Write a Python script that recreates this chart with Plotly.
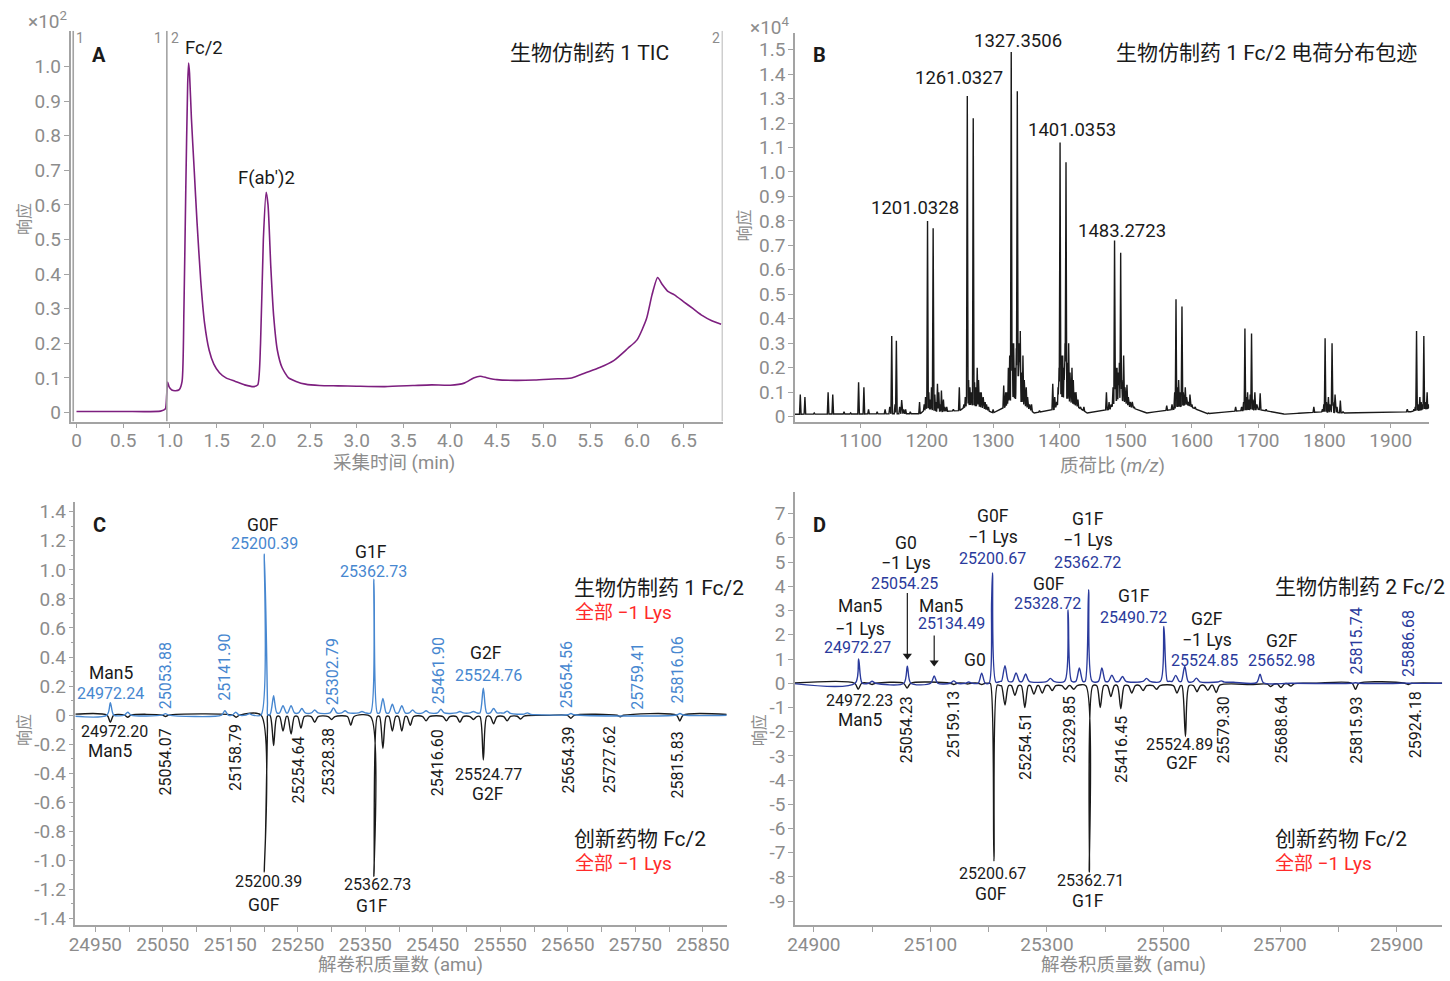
import numpy as np
import plotly.graph_objects as go

W, H = 1450, 981
FONT = "Roboto, 'Noto Sans CJK SC', sans-serif"
GRAY = "#8c8c8c"
AXC = "#a3a3a3"
BLK = "#1a1a1a"
PURPLE = "#7d1f7f"
BLUE_C = "#4787d0"
BLUE_D = "#2a3a9c"
RED = "#ff2a2a"

# ---------------- Panel A : TIC ----------------
tic_time = [0, 0.5, 0.9, 0.95, 0.965, 0.975, 0.99, 1.02, 1.06, 1.1, 1.13, 1.15, 1.17, 1.19, 1.2,
            1.21, 1.23, 1.26, 1.29, 1.33, 1.37, 1.42, 1.47, 1.53, 1.6, 1.7, 1.8, 1.9, 1.94,
            1.97, 2.0, 2.03, 2.05, 2.08, 2.11, 2.15, 2.2, 2.27, 2.35, 2.45, 2.6, 2.8, 3.0,
            3.3, 3.6, 3.8, 4.0, 4.15, 4.25, 4.32, 4.4, 4.5, 4.7, 4.9, 5.1, 5.3, 5.45, 5.6,
            5.75, 5.9, 6.0, 6.1, 6.16, 6.22, 6.27, 6.33, 6.4, 6.5, 6.6, 6.7, 6.8, 6.9]
tic_resp = [0.003, 0.003, 0.004, 0.01, 0.05, 0.088, 0.075, 0.065, 0.063, 0.066, 0.09, 0.3, 0.65,
            0.95, 1.01, 0.98, 0.85, 0.7, 0.55, 0.38, 0.26, 0.18, 0.14, 0.115, 0.1, 0.09, 0.08,
            0.075, 0.08, 0.2, 0.5, 0.636, 0.6, 0.42, 0.28, 0.18, 0.13, 0.1, 0.09, 0.082,
            0.078, 0.077, 0.076, 0.075, 0.078, 0.08, 0.079, 0.085, 0.1, 0.105, 0.1, 0.095,
            0.093, 0.094, 0.097, 0.1, 0.115, 0.13, 0.15, 0.185, 0.21, 0.27, 0.34, 0.39, 0.37,
            0.35, 0.34, 0.32, 0.30, 0.28, 0.265, 0.255]

# ---------------- Panel B : charge envelope ----------------
ms_peak_mz = [1009, 1016, 1051, 1058, 1097, 1105, 1147, 1154, 1201.03, 1209.5, 1261.03, 1270,
              1327.35, 1336.5, 1401.04, 1410, 1483.27, 1492.5, 1576, 1585, 1680, 1690, 1801,
              1811.5, 1939, 1950,
              1112, 1137, 1162, 1168, 1189, 1216, 1222, 1230, 1249, 1256, 1276, 1282, 1290,
              1316, 1321, 1331, 1341, 1345, 1350, 1358, 1390, 1396, 1405, 1414, 1419, 1425,
              1437, 1471, 1478, 1487, 1497, 1502, 1510, 1562, 1580, 1590, 1597, 1605, 1666,
              1684, 1695, 1703, 1712, 1784, 1806, 1816, 1824, 1925, 1944, 1955,
              1030, 1075, 1085, 1125, 1175, 1240, 1300, 1370, 1455, 1530, 1545, 1625, 1650,
              1740, 1760, 1850, 1880, 1905]
ms_peak_h = [0.09, 0.08, 0.10, 0.09, 0.14, 0.12, 0.33, 0.31, 0.80, 0.77, 1.31, 1.22,
             1.49, 1.33, 1.12, 1.04, 0.72, 0.67, 0.48, 0.45, 0.36, 0.34, 0.32,
             0.30, 0.35, 0.33,
             0.03, 0.03, 0.068, 0.03, 0.06, 0.134, 0.107, 0.04, 0.12, 0.05, 0.2, 0.1, 0.05,
             0.127, 0.1, 0.3, 0.35, 0.25, 0.12, 0.05, 0.134, 0.06, 0.25, 0.3, 0.2, 0.1,
             0.04, 0.1, 0.05, 0.2, 0.25, 0.13, 0.06, 0.045, 0.15, 0.12, 0.09, 0.04, 0.04,
             0.1, 0.1, 0.095, 0.03, 0.04, 0.08, 0.09, 0.066, 0.03, 0.08, 0.1,
             0.015, 0.02, 0.015, 0.02, 0.02, 0.03, 0.03, 0.025, 0.02, 0.015, 0.02, 0.015, 0.01,
             0.01, 0.015, 0.01, 0.01, 0.01]
ms_grass_mz = [1144, 1152, 1159, 1165,
               1196, 1198, 1203, 1205, 1207, 1212, 1214, 1218, 1220, 1225, 1227,
               1258, 1260, 1263, 1265, 1267, 1272, 1274, 1278, 1280, 1285, 1288, 1293,
               1319, 1323, 1325, 1329, 1333, 1335, 1338, 1339.5, 1343, 1347, 1352, 1355,
               1393, 1398, 1399.5, 1403, 1407, 1408.5, 1412, 1416, 1421, 1423, 1428, 1432,
               1475, 1481, 1485, 1489, 1490.5, 1494, 1499, 1504, 1507, 1513,
               1570, 1574, 1578, 1582, 1587, 1592, 1595, 1600, 1608,
               1675, 1678, 1682, 1686, 1688, 1692, 1698, 1706,
               1797, 1799, 1803, 1808, 1813, 1819, 1828,
               1935, 1937, 1941, 1946, 1948, 1952, 1957]
ms_grass_h = [0.04, 0.05, 0.04, 0.03,
              0.05, 0.08, 0.1, 0.07, 0.12, 0.09, 0.06, 0.1, 0.05, 0.07, 0.04,
              0.08, 0.1, 0.15, 0.12, 0.1, 0.14, 0.12, 0.15, 0.1, 0.08, 0.06, 0.04,
              0.1, 0.2, 0.25, 0.3, 0.2, 0.28, 0.22, 0.3, 0.18, 0.15, 0.08, 0.05,
              0.08, 0.12, 0.2, 0.25, 0.2, 0.3, 0.22, 0.18, 0.15, 0.1, 0.07, 0.04,
              0.06, 0.12, 0.2, 0.18, 0.22, 0.15, 0.12, 0.08, 0.06, 0.04,
              0.05, 0.1, 0.12, 0.1, 0.1, 0.08, 0.06, 0.05, 0.03,
              0.04, 0.06, 0.08, 0.07, 0.09, 0.07, 0.05, 0.03,
              0.03, 0.05, 0.06, 0.05, 0.06, 0.04, 0.02,
              0.03, 0.04, 0.05, 0.06, 0.05, 0.06, 0.05]
ms_base_mz = [1000, 1190, 1200, 1215, 1250, 1262, 1280, 1300, 1318, 1330, 1345, 1362, 1392,
              1405, 1422, 1442, 1476, 1490, 1506, 1532, 1572, 1590, 1622, 1676, 1700, 1740,
              1798, 1830, 1930, 1958]
ms_base_h = [0.01, 0.012, 0.035, 0.02, 0.025, 0.05, 0.04, 0.015, 0.04, 0.08, 0.05, 0.015, 0.03,
             0.08, 0.05, 0.015, 0.03, 0.08, 0.04, 0.015, 0.03, 0.05, 0.012, 0.025, 0.03, 0.01,
             0.02, 0.015, 0.02, 0.035]

# ---------------- Panel C : biosimilar 1 vs innovator ----------------
c_up_mass = [24972.24, 24998, 25053.88, 25141.90, 25158, 25178, 25200.39, 25214, 25228, 25240,
             25256, 25275, 25302.79, 25320, 25345, 25362.73, 25376, 25390, 25404, 25420, 25440,
             25461.90, 25490, 25510, 25524.76, 25540, 25560, 25590, 25654.56, 25816.06]
c_up_h = [0.085, 0.02, 0.01, 0.03, 0.02, 0.01, 1.11, 0.12, 0.05, 0.05, 0.03, 0.02, 0.035,
          0.015, 0.01, 0.92, 0.1, 0.06, 0.05, 0.02, 0.015, 0.025, 0.01, 0.01, 0.17, 0.03,
          0.015, 0.01, 0.008, 0.01]
c_dn_mass = [24972.20, 24998, 25054.07, 25158.79, 25200.39, 25214, 25228, 25240, 25254.64,
             25275, 25300, 25328.38, 25362.73, 25376, 25390, 25404, 25416.60, 25440, 25470,
             25490, 25510, 25524.77, 25540, 25560, 25580, 25654.39, 25727.62, 25815.83]
c_dn_h = [0.05, 0.015, 0.01, 0.015, 1.08, 0.2, 0.1, 0.12, 0.08, 0.04, 0.02, 0.06, 1.1, 0.22,
          0.1, 0.1, 0.06, 0.03, 0.03, 0.04, 0.02, 0.3, 0.05, 0.03, 0.02, 0.02, 0.01, 0.04]
c_up_base_mass = [24900, 25205, 25215, 25550, 25600, 25900]
c_up_base_h = [0.0, 0.0, 0.015, 0.015, 0.003, 0.0]
c_dn_base_mass = [24900, 25205, 25215, 25560, 25620, 25900]
c_dn_base_h = [0.0, 0.0, -0.01, -0.01, -0.002, 0.0]

# ---------------- Panel D : biosimilar 2 vs innovator ----------------
d_up_mass = [24976.8, 25000, 25060.4, 25106.5, 25140, 25165.7, 25188, 25206.6, 25228, 25247,
             25263.5, 25306, 25336.3, 25355.6, 25371.5, 25394.3, 25411.4, 25429.6, 25471,
             25500.7, 25521, 25536.5, 25556.5, 25599, 25665.7, 25829.5, 25912]
d_up_h = [1.0, 0.08, 0.7, 0.3, 0.1, 0.05, 0.42, 4.55, 0.65, 0.35, 0.3, 0.12, 2.95, 0.55, 3.78,
          0.55, 0.25, 0.2, 0.12, 2.27, 0.25, 0.63, 0.15, 0.05, 0.35, 0.02, 0.01]
d_dn_mass = [24976, 25000, 25060, 25140, 25164, 25188, 25209, 25228, 25245, 25262, 25277.6,
             25292, 25309, 25331.7, 25346, 25372.7, 25391.5, 25409.7, 25426.8, 25445.6, 25465,
             25488, 25523, 25537.7, 25557.5, 25576, 25590.6, 25684, 25701.5, 25718.6,
             25829.5, 25920]
d_dn_h = [0.25, 0.05, 0.2, 0.05, 0.03, 0.05, 7.3, 0.8, 0.4, 0.9, 0.35, 0.3, 0.2, 0.15, 0.15,
          7.7, 0.9, 0.45, 0.95, 0.3, 0.2, 0.15, 0.3, 2.1, 0.25, 0.2, 0.3, 0.1, 0.15, 0.1,
          0.25, 0.05]
d_up_base_mass = [24860, 25205, 25220, 25510, 25620, 25720, 25990]
d_up_base_h = [0.0, 0.0, 0.08, 0.08, 0.04, 0.0, 0.0]
d_dn_base_mass = [24860, 25200, 25220, 25560, 25650, 25760, 25990]
d_dn_base_h = [0.0, 0.0, -0.1, -0.1, -0.05, 0.0, 0.0]
# arrows in D point at these peaks (indices into d_up_mass) : G0 -1 Lys and Man5
d_arrow_idx = [2, 3]
d_arrow_gap = [0.24, 0.36]
d_arrow_tail = [3.73, 1.97]


def spectrum(px, ph, w, bx, by, sign=1.0, mode="sum"):
    px = np.asarray(px, float)
    ph = np.asarray(ph, float)
    bx = np.asarray(bx, float)
    by = np.asarray(by, float)
    xs = np.unique(np.concatenate([bx, px - w, px, px + w]))
    tri = np.clip(1 - np.abs(xs[:, None] - px[None, :]) / w, 0, None) * ph[None, :]
    base = np.interp(xs, bx, by)
    if mode == "max":
        ys = np.maximum(base, tri.max(axis=1))
    else:
        ys = base + sign * tri.sum(axis=1)
    return xs, ys


fig = go.Figure()

fig.add_trace(go.Scatter(x=tic_time, y=tic_resp, mode="lines",
                         line=dict(color=PURPLE, width=1.6, shape="spline", smoothing=0.6),
                         xaxis="x", yaxis="y", hoverinfo="skip"))

bx, byv = spectrum(ms_peak_mz + ms_grass_mz, ms_peak_h + ms_grass_h, 1.2, ms_base_mz, ms_base_h, mode="max")
fig.add_trace(go.Scatter(x=bx, y=byv, mode="lines", line=dict(color=BLK, width=1.4),
                         xaxis="x2", yaxis="y2", hoverinfo="skip"))

cx1, cy1 = spectrum(c_up_mass, c_up_h, 5, c_up_base_mass, c_up_base_h, 1)
cx2, cy2 = spectrum(c_dn_mass, c_dn_h, 5, c_dn_base_mass, c_dn_base_h, -1)
fig.add_trace(go.Scatter(x=cx2, y=cy2, mode="lines", line=dict(color=BLK, width=1.4, shape="spline", smoothing=0.8),
                         xaxis="x3", yaxis="y3", hoverinfo="skip"))
fig.add_trace(go.Scatter(x=cx1, y=cy1, mode="lines", line=dict(color=BLUE_C, width=1.4, shape="spline", smoothing=0.8),
                         xaxis="x3", yaxis="y3", hoverinfo="skip"))

dx1, dy1 = spectrum(d_up_mass, d_up_h, 6, d_up_base_mass, d_up_base_h, 1)
dx2, dy2 = spectrum(d_dn_mass, d_dn_h, 6, d_dn_base_mass, d_dn_base_h, -1)
fig.add_trace(go.Scatter(x=dx2, y=dy2, mode="lines", line=dict(color=BLK, width=1.4, shape="spline", smoothing=0.8),
                         xaxis="x4", yaxis="y4", hoverinfo="skip"))
fig.add_trace(go.Scatter(x=dx1, y=dy1, mode="lines", line=dict(color=BLUE_D, width=1.4, shape="spline", smoothing=0.8),
                         xaxis="x4", yaxis="y4", hoverinfo="skip"))

# arrow heads in D
ah_x = [d_up_mass[i] for i in d_arrow_idx]
ah_y = [d_up_h[i] + g + 0.2 for i, g in zip(d_arrow_idx, d_arrow_gap)]
fig.add_trace(go.Scatter(x=ah_x, y=ah_y, mode="markers",
                         marker=dict(symbol="triangle-down", size=8, color=BLK, line=dict(width=0)),
                         xaxis="x4", yaxis="y4", hoverinfo="skip"))


def dom_x(a, b):
    return [a / W, b / W]


def dom_y(top, bottom):
    return [1 - bottom / H, 1 - top / H]


def fmt1(v):
    return "0" if abs(v) < 1e-9 else f"{v:.1f}"


TICKSZ = 19
axbase = dict(showline=True, linecolor=AXC, linewidth=1.6, ticks="outside", ticklen=5,
              tickcolor=AXC, tickwidth=1.4, showgrid=False, zeroline=False,
              tickfont=dict(family=FONT, size=TICKSZ, color=GRAY), fixedrange=True)
xbase = dict(axbase, ticklabelstandoff=-4)
ybase = dict(axbase, ticklabelstandoff=-1)

a_x = [i * 0.5 for i in range(14)]
a_y = [i * 0.1 for i in range(11)]
b_x = list(range(1100, 2000, 100))
b_y = [i * 0.1 for i in range(16)]
c_x = list(range(24950, 25900, 100))
c_y = [round(-1.4 + 0.2 * i, 1) for i in range(15)]
d_x = list(range(24900, 26000, 200))
d_y = list(range(-9, 8))

fig.update_layout(
    width=W, height=H, autosize=False, margin=dict(l=0, r=0, t=0, b=0),
    paper_bgcolor="white", plot_bgcolor="white", showlegend=False,
    font=dict(family=FONT, color=BLK),
    xaxis=dict(xbase, domain=dom_x(63, 720), range=[-0.064, 6.915], anchor="y",
               tickvals=a_x, ticktext=[fmt1(v) for v in a_x]),
    yaxis=dict(ybase, domain=dom_y(30, 424), range=[-0.026, 1.103], anchor="x",
               tickvals=a_y, ticktext=[fmt1(v) for v in a_y]),
    xaxis2=dict(xbase, domain=dom_x(793, 1432), range=[1001, 1958], anchor="y2",
                tickvals=b_x, ticktext=[str(v) for v in b_x]),
    yaxis2=dict(ybase, domain=dom_y(32, 424), range=[-0.02, 1.569], anchor="x2",
                tickvals=b_y, ticktext=[fmt1(v) for v in b_y]),
    xaxis3=dict(xbase, domain=dom_x(68, 724), range=[24920.6, 25885], anchor="y3",
                tickvals=c_x, ticktext=[str(v) for v in c_x],
                minor=dict(tickvals=list(range(25000, 25900, 100)), ticks="outside", ticklen=5, tickcolor=AXC)),
    yaxis3=dict(ybase, domain=dom_y(505, 932), range=[-1.448, 1.468], anchor="x3",
                tickvals=c_y, ticktext=[fmt1(v) for v in c_y],
                minor=dict(tickvals=[round(-1.3 + 0.2 * i, 1) for i in range(14)], ticks="outside", ticklen=3, tickcolor=AXC)),
    xaxis4=dict(xbase, domain=dom_x(793, 1445), range=[24867.6, 25978], anchor="y4",
                tickvals=d_x, ticktext=[str(v) for v in d_x],
                minor=dict(tickvals=list(range(25000, 26000, 200)), ticks="outside", ticklen=5, tickcolor=AXC)),
    yaxis4=dict(ybase, domain=dom_y(495, 932), range=[-10.0, 7.9], anchor="x4",
                tickvals=d_y, ticktext=[str(v) for v in d_y]),
)

ann = []


def P(text, x, y, size=17, color=BLK, angle=0, bold=False, xanchor="center"):
    if bold:
        text = f"<b>{text}</b>"
    ann.append(dict(text=text, x=x / W, y=1 - y / H, xref="paper", yref="paper", showarrow=False,
                    font=dict(family=FONT, size=size, color=color), textangle=angle,
                    xanchor=xanchor, yanchor="middle"))


def D(text, x, y, ax_id, size=16, color=BLK, angle=0):
    ann.append(dict(text=text, x=x, y=y, xref="x" + ax_id, yref="y" + ax_id, showarrow=False,
                    font=dict(family=FONT, size=size, color=color), textangle=angle,
                    xanchor="center", yanchor="middle"))


TITLE = 21
AXT = 18.5
YT = 16
WORD = 17.5
NUM = 16

# ---- Panel A texts
P("×10<sup>2</sup>", 40, 20, size=19, color=GRAY)
P("A", 92, 54, size=20, bold=True)
P("1", 73, 37, size=14, color=GRAY)
P("1", 151, 37, size=14, color=GRAY)
P("2", 168, 37, size=14, color=GRAY)
P("2", 713, 37, size=14, color=GRAY)
D("Fc/2", 1.37, 1.054, "", size=18.5)
D("F(ab')2", 2.03, 0.679, "", size=18.5)
P("生物仿制药 1 TIC", 586, 52, size=TITLE)
P("响应", 16, 220, size=YT, color=GRAY, angle=-90)
P("采集时间 (min)", 389, 466, size=AXT, color=GRAY)

# ---- Panel B texts
P("×10<sup>4</sup>", 768, 26, size=19, color=GRAY)
P("B", 818, 54, size=20, bold=True)
b_lab = ["1201.0328", "1261.0327", "1327.3506", "1401.0353", "1483.2723"]
b_lab_x = [1182.4, 1248.3, 1338.2, 1419.1, 1494.0]
b_lab_y = [0.851, 1.382, 1.536, 1.171, 0.758]
for t, x, y in zip(b_lab, b_lab_x, b_lab_y):
    D(t, x, y, "2", size=18.5)
P("生物仿制药 1 Fc/2 电荷分布包迹", 1268, 52, size=TITLE)
P("响应", 742, 226, size=YT, color=GRAY, angle=-90)
P("质荷比 (<i>m/z</i>)", 1113, 469, size=AXT, color=GRAY)

# ---- Panel C texts
P("C", 92, 528, size=20, bold=True)
c_word_lab = [("G0F", 25198.5, 1.311), ("G1F", 25358.8, 1.12), ("Man5", 24973.5, 0.29),
              ("G2F", 25528, 0.43), ("Man5", 24972, -0.246), ("G2F", 25532, -0.546),
              ("G0F", 25200, -1.305), ("G1F", 25360, -1.311)]
for t, x, y in c_word_lab:
    D(t, x, y, "3", size=WORD)
c_num_lab = [("24972.20", 24978, -0.116), ("25524.77", 25532, -0.41), ("25200.39", 25206, -1.148),
             ("25362.73", 25367.6, -1.168)]
for t, x, y in c_num_lab:
    D(t, x, y, "3", size=NUM)
c_blue_lab = [("25200.39", 25200, 1.182), ("25362.73", 25361.8, 0.99), ("24972.24", 24972, 0.15),
              ("25524.76", 25532, 0.273)]
for t, x, y in c_blue_lab:
    D(t, x, y, "3", size=NUM, color=BLUE_C)
c_blue_rot = [("25053.88", 25054.4, 0.273), ("25141.90", 25141, 0.328), ("25302.79", 25301.5, 0.30),
              ("25461.90", 25458.8, 0.307), ("25654.56", 25648.5, 0.28), ("25759.41", 25753, 0.266),
              ("25816.06", 25813, 0.314)]
for t, x, y in c_blue_rot:
    D(t, x, y, "3", size=NUM, color=BLUE_C, angle=-90)
c_black_rot = [("25054.07", 25054.4, -0.32), ("25158.79", 25158.8, -0.294), ("25254.64", 25251.5, -0.376),
               ("25328.38", 25295.6, -0.32), ("25416.60", 25457, -0.328), ("25654.39", 25651.5, -0.307),
               ("25727.62", 25711.8, -0.307), ("25815.83", 25813, -0.34)]
for t, x, y in c_black_rot:
    D(t, x, y, "3", size=NUM, angle=-90)
P("生物仿制药 1 Fc/2", 656, 592, size=TITLE)
P("全部 −1 Lys", 620, 617, size=19, color=RED)
P("创新药物 Fc/2", 637, 845, size=TITLE)
P("全部 −1 Lys", 620, 870, size=19, color=RED)
P("响应", 16, 735, size=YT, color=GRAY, angle=-90)
P("解卷积质量数 (amu)", 395, 972, size=AXT, color=GRAY)

# ---- Panel D texts
P("D", 818, 528, size=20, bold=True)
d_word_lab = [("Man5", 24978.5, 3.2), ("−1 Lys", 24978.5, 2.25), ("G0", 25058.7, 5.78),
              ("−1 Lys", 25058.7, 4.96), ("Man5", 25118.4, 3.2), ("G0", 25176.5, 0.94),
              ("G0F", 25207, 6.89), ("−1 Lys", 25207, 6.02), ("G1F", 25371, 6.8),
              ("−1 Lys", 25371, 5.9), ("G0F", 25302.7, 4.1), ("G1F", 25449.5, 3.6),
              ("G2F", 25574, 2.66), ("−1 Lys", 25574, 1.8), ("G2F", 25703.8, 1.76),
              ("Man5", 24978.5, -1.52), ("G2F", 25531, -3.28),
              ("G0F", 25204, -8.69), ("G1F", 25371, -9.0)]
for t, x, y in d_word_lab:
    D(t, x, y, "4", size=WORD)
d_num_lab = [("24972.23", 24978.5, -0.7), ("25524.89", 25527, -2.54),
             ("25200.67", 25207, -7.87), ("25362.71", 25374.4, -8.16)]
for t, x, y in d_num_lab:
    D(t, x, y, "4", size=NUM)
d_blue_lab = [("24972.27", 24975, 1.475), ("25054.25", 25055.3, 4.14), ("25134.49", 25135.5, 2.46),
              ("25200.67", 25207, 5.16), ("25362.72", 25369.3, 5.0), ("25328.72", 25301, 3.28),
              ("25490.72", 25447.8, 2.7), ("25524.85", 25570.6, 0.96), ("25652.98", 25702, 0.94)]
for t, x, y in d_blue_lab:
    D(t, x, y, "4", size=NUM, color=BLUE_D)
d_blue_rot = [("25815.74", 25831.7, 1.76), ("25886.68", 25920.5, 1.64)]
for t, x, y in d_blue_rot:
    D(t, x, y, "4", size=NUM, color=BLUE_D, angle=-90)
d_black_rot = [("25054.23", 25060.4, -1.93), ("25159.13", 25140.6, -1.72), ("25254.51", 25263.5, -2.6),
               ("25329.85", 25340, -1.93), ("25416.45", 25429, -2.75), ("25579.30", 25603, -1.93),
               ("25688.64", 25703.8, -1.93), ("25815.93", 25831.7, -1.93), ("25924.18", 25934, -1.72)]
for t, x, y in d_black_rot:
    D(t, x, y, "4", size=NUM, angle=-90)
P("生物仿制药 2 Fc/2", 1362, 591, size=TITLE)
P("创新药物 Fc/2", 1343, 845, size=TITLE)
P("全部 −1 Lys", 1326, 870, size=19, color=RED)
P("响应", 757, 735, size=YT, color=GRAY, angle=-90)
P("解卷积质量数 (amu)", 1124, 972, size=AXT, color=GRAY)

fig.update_layout(annotations=ann)

shapes = []
# segment markers in panel A
for xv in [-0.035, 0.967, 6.915]:
    shapes.append(dict(type="line", xref="x", yref="y", x0=xv, x1=xv, y0=-0.026, y1=1.103,
                       line=dict(color=AXC, width=1.6)))
# arrow shafts in D
for xv, y0, y1 in zip(ah_x, d_arrow_tail, ah_y):
    shapes.append(dict(type="line", xref="x4", yref="y4", x0=xv, x1=xv, y0=y0, y1=y1,
                       line=dict(color=BLK, width=1.2)))
fig.update_layout(shapes=shapes)

fig.write_html("out.html", config={"displayModeBar": False},
               post_script="document.body.style.margin='0';document.body.style.overflow='hidden';")
